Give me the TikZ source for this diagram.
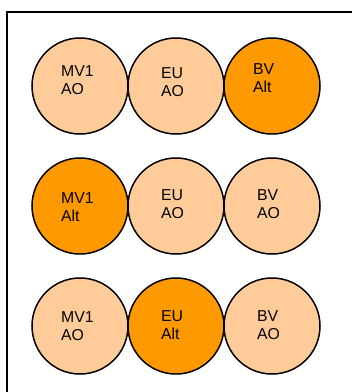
\documentclass[tikz,border=0pt]{standalone}
\usepackage{fontspec}
\setmainfont{Liberation Sans}
\definecolor{paleorange}{HTML}{FFCC99}
\definecolor{strongorange}{HTML}{FF9900}
\begin{document}
\begin{tikzpicture}[x=1pt,y=-1pt,
  disc/.style={circle, draw=black, line width=1.5pt, minimum size=96pt, inner sep=0pt},
  ao/.style={disc, fill=paleorange},
  alt/.style={disc, fill=strongorange},
  tag/.style={anchor=west, align=left, inner sep=0pt, font=\fontsize{15.8}{18}\selectfont}]
\useasboundingbox (0,0) rectangle (352,392);
\fill[white] (0,0) rectangle (352,392);
% frame
\coordinate (fbl) at (7,392);
\coordinate (ftl) at (7,12);
\coordinate (ftr) at (352,12);
\draw[line width=1.8pt] (fbl) -- (ftl) -- (ftr);
% row 1
\node[ao]  (r1a) at (80,86) {};
\node[ao]  (r1b) at (176,86) {};
\node[alt] (r1c) at (272,86) {};
\node[tag] (t1a) at (61,80) {MV1\\AO};
\node[tag] (t1b) at (161,82) {EU\\AO};
\node[tag] (t1c) at (253,78) {BV\\Alt};
% row 2
\node[alt] (r2a) at (80,206) {};
\node[ao]  (r2b) at (176,206) {};
\node[ao]  (r2c) at (272,206) {};
\node[tag] (t2a) at (61,207.5) {MV1\\Alt};
\node[tag] (t2b) at (161,204.5) {EU\\AO};
\node[tag] (t2c) at (257,204.5) {BV\\AO};
% row 3
\node[ao]  (r3a) at (80,326) {};
\node[alt] (r3b) at (176,326) {};
\node[ao]  (r3c) at (272,326) {};
\node[tag] (t3a) at (61,326.5) {MV1\\AO};
\node[tag] (t3b) at (161,325) {EU\\Alt};
\node[tag] (t3c) at (257,325) {BV\\AO};
\end{tikzpicture}
\end{document}
